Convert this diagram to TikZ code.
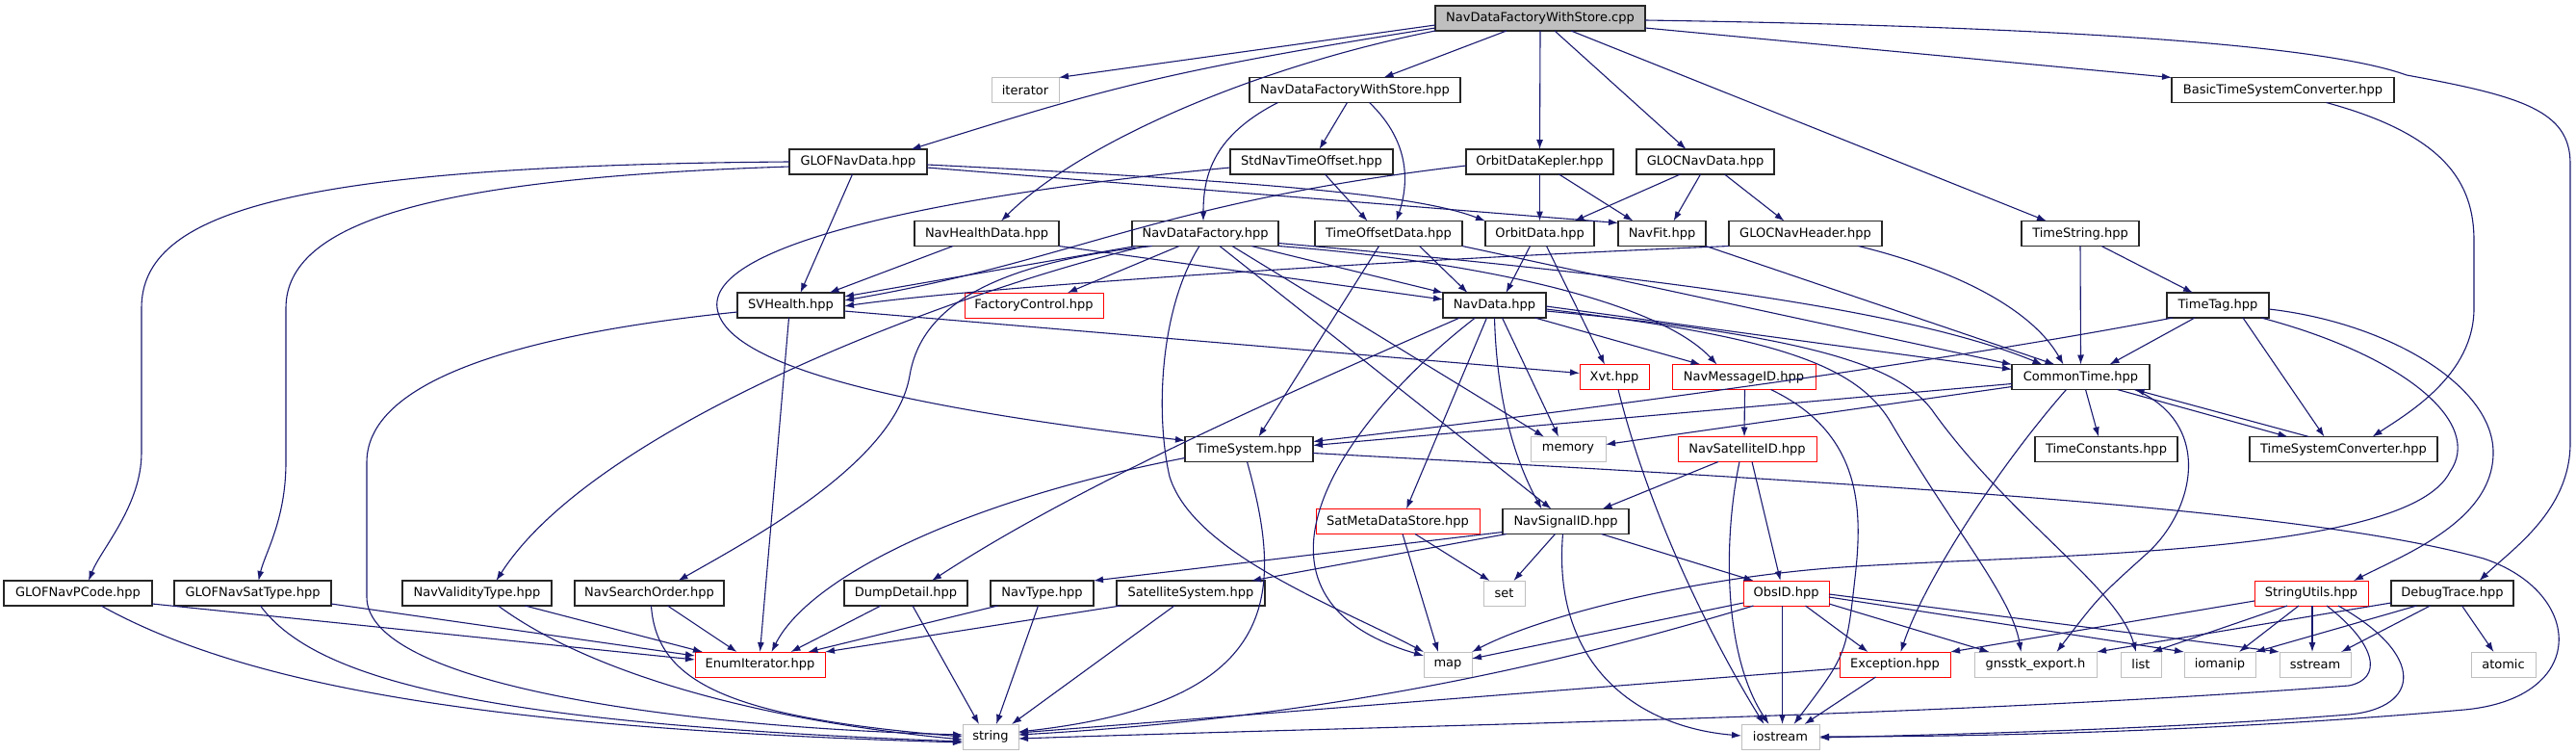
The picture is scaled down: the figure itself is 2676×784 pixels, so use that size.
\documentclass[tikz,border=0pt]{standalone}
\usepackage{fontspec}
\setmainfont{DejaVu Sans}
\usetikzlibrary{positioning,arrows.meta}

\definecolor{edgeblue}{HTML}{191970}
\definecolor{boxgrey}{HTML}{BFBFBF}

\tikzset{
	box/.style={draw, fill=white, minimum height=26pt, inner xsep=2pt, inner ysep=0pt,
		outer sep=0pt, line width=1pt, font=\fontsize{13pt}{15pt}\selectfont},
	header/.style={box, draw=black!85, line width=1.2pt},
	trunc/.style={box, draw=red},
	sysinc/.style={box, draw=boxgrey},
	rootsrc/.style={box, draw=black!85, line width=1.2pt, fill=boxgrey},
	dep/.style={draw=edgeblue, line width=1.1pt, -{Latex[length=10pt,width=7pt]}},
}

\begin{document}
\begin{tikzpicture}[x=1pt, y=-1pt]
\fill[white] (0,0) rectangle (2676,784);
\useasboundingbox (0,0) rectangle (2676,784);

% Source file
\node [rootsrc, minimum width=218pt, anchor=west] (cpp) at (1491,19) {NavDataFactoryWithStore.cpp};

% Row 1
\node [sysinc, minimum width=70pt, anchor=west] (std_iterator) at (1030,93.5) {iterator};
\node [header, minimum width=219pt, right=198pt of std_iterator] (nav_data_factory_with_store) {NavDataFactoryWithStore.hpp};
\node [header, minimum width=231pt, right=739pt of nav_data_factory_with_store] (basic_time_system_converter) {BasicTimeSystemConverter.hpp};

% Row 2
\node [header, minimum width=143pt, anchor=west] (glof_nav_data) at (820,168) {GLOFNavData.hpp};
\node [header, minimum width=169pt, right=315pt of glof_nav_data] (std_nav_time_offset) {StdNavTimeOffset.hpp};
\node [header, minimum width=153pt, right=76pt of std_nav_time_offset] (orbit_data_kepler) {OrbitDataKepler.hpp};
\node [header, minimum width=143pt, right=24pt of orbit_data_kepler] (gloc_nav_data) {GLOCNavData.hpp};

% Row 3
\node [header, minimum width=150pt, anchor=west] (nav_health_data) at (950,242.5) {NavHealthData.hpp};
\node [header, minimum width=152pt, right=76pt of nav_health_data] (nav_data_factory) {NavDataFactory.hpp};
\node [header, minimum width=153pt, right=38pt of nav_data_factory] (time_offset_data) {TimeOffsetData.hpp};
\node [header, minimum width=113pt, right=24pt of time_offset_data] (orbit_data) {OrbitData.hpp};
\node [header, minimum width=91pt, right=25pt of orbit_data] (nav_fit) {NavFit.hpp};
\node [header, minimum width=159pt, right=24pt of nav_fit] (gloc_nav_header) {GLOCNavHeader.hpp};
\node [header, minimum width=122pt, right=145pt of gloc_nav_header] (time_string) {TimeString.hpp};

% Row 4
\node [header, minimum width=111pt, anchor=west] (sv_health) at (766,317) {SVHealth.hpp};
\node [trunc, minimum width=144pt, right=125pt of sv_health] (factory_control) {FactoryControl.hpp};
\node [header, minimum width=107pt, right=353pt of factory_control] (nav_data) {NavData.hpp};
\node [header, minimum width=106pt, right=645pt of nav_data] (time_tag) {TimeTag.hpp};

% Row 5
\node [trunc, minimum width=72pt, anchor=west] (xvt) at (1641,391.5) {Xvt.hpp};
\node [trunc, minimum width=149pt, right=24pt of xvt] (nav_message_id) {NavMessageID.hpp};
\node [header, minimum width=143pt, right=204pt of nav_message_id] (common_time) {CommonTime.hpp};

% Row 6
\node [header, minimum width=133pt, anchor=west] (time_system) at (1231,466.5) {TimeSystem.hpp};
\node [sysinc, minimum width=78pt, right=226pt of time_system] (std_memory) {memory};
\node [trunc, minimum width=144pt, right=75pt of std_memory] (nav_satellite_id) {NavSatelliteID.hpp};
\node [header, minimum width=148pt, right=227pt of nav_satellite_id] (time_constants) {TimeConstants.hpp};
\node [header, minimum width=195pt, right=75pt of time_constants] (time_system_converter) {TimeSystemConverter.hpp};

% Row 7
\node [trunc, minimum width=170pt, anchor=west] (sat_meta_data_store) at (1367,541.5) {SatMetaDataStore.hpp};
\node [header, minimum width=131pt, right=24pt of sat_meta_data_store] (nav_signal_id) {NavSignalID.hpp};

% Row 8
\node [header, minimum width=154pt, anchor=west] (glof_nav_p_code) at (4,616) {GLOFNavPCode.hpp};
\node [header, minimum width=163pt, right=23pt of glof_nav_p_code] (glof_nav_sat_type) {GLOFNavSatType.hpp};
\node [header, minimum width=155pt, right=74pt of glof_nav_sat_type] (nav_validity_type) {NavValidityType.hpp};
\node [header, minimum width=155pt, right=24pt of nav_validity_type] (nav_search_order) {NavSearchOrder.hpp};
\node [header, minimum width=128pt, right=125pt of nav_search_order] (dump_detail) {DumpDetail.hpp};
\node [header, minimum width=107pt, right=24pt of dump_detail] (nav_type) {NavType.hpp};
\node [header, minimum width=154pt, right=24pt of nav_type] (satellite_system) {SatelliteSystem.hpp};
\node [sysinc, minimum width=43pt, right=227pt of satellite_system] (std_set) {set};
\node [trunc, minimum width=89pt, right=227pt of std_set] (obs_id) {ObsID.hpp};
\node [trunc, minimum width=118pt, right=442pt of obs_id] (string_utils) {StringUtils.hpp};
\node [header, minimum width=127pt, right=24pt of string_utils] (debug_trace) {DebugTrace.hpp};

% Row 9
\node [trunc, minimum width=135pt, anchor=west] (enum_iterator) at (722,690) {EnumIterator.hpp};
\node [sysinc, minimum width=50pt, right=622pt of enum_iterator] (std_map) {map};
\node [trunc, minimum width=115pt, right=382pt of std_map] (exception) {Exception.hpp};
\node [sysinc, minimum width=127pt, right=25pt of exception] (gnsstk_export) {gnsstk\_export.h};
\node [sysinc, minimum width=42pt, right=25pt of gnsstk_export] (std_list) {list};
\node [sysinc, minimum width=74pt, right=24pt of std_list] (std_iomanip) {iomanip};
\node [sysinc, minimum width=74pt, right=25pt of std_iomanip] (std_sstream) {sstream};
\node [sysinc, minimum width=67pt, right=125pt of std_sstream] (std_atomic) {atomic};

% Row 10
\node [sysinc, minimum width=58pt, anchor=west] (std_string) at (1000,765) {string};
\node [sysinc, minimum width=81pt, right=751pt of std_string] (std_iostream) {iostream};

% Includes of the source file
\draw[dep] ([yshift=-7pt]cpp.west) -- (std_iterator.north east);
\draw[dep] ([yshift=-10pt]cpp.west) .. controls (1200,75) and (1140,95) .. ([xshift=55pt]glof_nav_data.north);
\draw[dep] (cpp.south west) .. controls (1300,70) and (1120,150) .. ([xshift=15pt]nav_health_data.north);
\draw[dep] ([xshift=-35pt]cpp.south) -- ([xshift=30pt]nav_data_factory_with_store.north);
\draw[dep] (cpp.south) -- (orbit_data_kepler.north);
\draw[dep] ([xshift=15pt]cpp.south) -- ([xshift=-20pt]gloc_nav_data.north);
\draw[dep] ([xshift=32pt]cpp.south) -- ([xshift=-35pt]time_string.north);
\draw[dep] ([yshift=-10pt]cpp.east) -- (basic_time_system_converter.north west);
\draw[dep] ([yshift=-2pt]cpp.east) .. controls (2300,30) and (2450,60) .. (2500,78) .. controls (2620,100) and (2670,115) .. (2670,170) -- (2670,460) .. controls (2670,530) and (2610,570) .. ([xshift=28pt]debug_trace.north);

% NavDataFactoryWithStore.hpp
\draw[dep] ([xshift=-80pt]nav_data_factory_with_store.south) .. controls (1262,140) and (1250,180) .. ([xshift=-2pt]nav_data_factory.north);
\draw[dep] ([xshift=-8pt]nav_data_factory_with_store.south) -- ([xshift=8pt]std_nav_time_offset.north);
\draw[dep] ([xshift=15pt]nav_data_factory_with_store.south) .. controls (1468,150) and (1462,195) .. ([xshift=8pt]time_offset_data.north);

% GLOFNavData.hpp
\draw[dep] (glof_nav_data.west) .. controls (300,172) and (147,220) .. (147,320) -- (147,470) .. controls (147,525) and (105,570) .. ([xshift=11pt]glof_nav_p_code.north);
\draw[dep] ([yshift=-5pt]glof_nav_data.west) .. controls (450,185) and (297,230) .. (297,320) -- (297,480) .. controls (297,540) and (275,575) .. ([xshift=6pt]glof_nav_sat_type.north);
\draw[dep] ([xshift=-6pt]glof_nav_data.south) -- ([xshift=10pt]sv_health.north);
\draw[dep] ([yshift=-3pt]glof_nav_data.east) .. controls (1350,190) and (1480,205) .. (orbit_data.north west);
\draw[dep] ([yshift=-6pt]glof_nav_data.east) -- ([yshift=-2pt]nav_fit.north west);

% StdNavTimeOffset.hpp
\draw[dep] ([xshift=14pt]std_nav_time_offset.south) -- ([xshift=-22pt]time_offset_data.north);
\draw[dep] ([yshift=-6pt]std_nav_time_offset.west) .. controls (1000,200) and (735,250) .. (745,320) .. controls (755,390) and (1000,430) .. ([yshift=9pt]time_system.west);

% OrbitDataKepler.hpp and GLOCNavData.hpp
\draw[dep] (orbit_data_kepler.south) -- (orbit_data.north);
\draw[dep] ([xshift=20pt]orbit_data_kepler.south) -- ([xshift=-30pt]nav_fit.north);
\draw[dep] ([yshift=-4pt]orbit_data_kepler.west) .. controls (1200,210) and (1120,270) .. ([yshift=5pt]sv_health.east);
\draw[dep] ([xshift=-26pt]gloc_nav_data.south) -- ([xshift=36pt]orbit_data.north);
\draw[dep] ([xshift=-5pt]gloc_nav_data.south) -- ([xshift=12pt]nav_fit.north);
\draw[dep] ([xshift=20pt]gloc_nav_data.south) -- ([xshift=-22pt]gloc_nav_header.north);

% NavHealthData.hpp
\draw[dep] ([xshift=-35pt]nav_health_data.south) -- ([xshift=40pt]sv_health.north);
\draw[dep] (nav_health_data.south east) -- ([yshift=6pt]nav_data.west);

% NavDataFactory.hpp
\draw[dep] ([xshift=-72pt]nav_data_factory.south) -- ([yshift=9pt]sv_health.east);
\draw[dep] ([xshift=-27pt]nav_data_factory.south) -- ([xshift=35pt]factory_control.north);
\draw[dep] ([xshift=-62pt]nav_data_factory.south) .. controls (1000,300) and (620,440) .. ([xshift=20pt]nav_validity_type.north);
\draw[dep] ([xshift=-55pt]nav_data_factory.south) .. controls (1010,275) and (955,330) .. (945,390) .. controls (930,480) and (780,560) .. ([xshift=30pt]nav_search_order.north);
\draw[dep] ([xshift=-6pt]nav_data_factory.south) .. controls (1205,320) and (1200,430) .. (1215,495) .. controls (1240,575) and (1390,630) .. (std_map.north west);
\draw[dep] ([xshift=48pt]nav_data_factory.south) -- (nav_data.north west);
\draw[dep] ([xshift=15pt]nav_data_factory.south) -- ([xshift=-15pt]nav_signal_id.north);
\draw[dep] ([xshift=28pt]nav_data_factory.south) -- ([xshift=-25pt]std_memory.north);
\draw[dep] (nav_data_factory.south east) .. controls (1520,270) and (1720,310) .. ([xshift=-28pt]nav_message_id.north);
\draw[dep] ([yshift=-10pt]nav_data_factory.east) .. controls (1700,285) and (1980,320) .. ([xshift=-40pt]common_time.north);

% TimeOffsetData.hpp, OrbitData.hpp, NavFit.hpp, GLOCNavHeader.hpp
\draw[dep] ([xshift=32pt]time_offset_data.south) -- ([xshift=-28pt]nav_data.north);
\draw[dep] ([xshift=-10pt]time_offset_data.south) -- ([xshift=10pt]time_system.north);
\draw[dep] (time_offset_data.south east) -- (common_time.north west);
\draw[dep] ([xshift=-10pt]orbit_data.south) -- ([xshift=12pt]nav_data.north);
\draw[dep] ([xshift=7pt]orbit_data.south) -- ([xshift=-10pt]xvt.north);
\draw[dep] (nav_fit.south east) -- ([xshift=-27pt]common_time.north);
\draw[dep] (gloc_nav_header.south west) .. controls (1400,272) and (1000,300) .. ([yshift=-1pt]sv_health.east);
\draw[dep] ([xshift=55pt]gloc_nav_header.south) .. controls (2030,280) and (2110,320) .. ([xshift=-18pt]common_time.north);

% TimeString.hpp
\draw[dep] (time_string.south) -- (common_time.north);
\draw[dep] ([xshift=22pt]time_string.south) -- ([xshift=-26pt]time_tag.north);

% SVHealth.hpp
\draw[dep] ([xshift=-2pt]sv_health.south) -- (enum_iterator.north);
\draw[dep] ([yshift=-7pt]sv_health.west) .. controls (560,345) and (381,390) .. (381,480) -- (381,620) .. controls (381,710) and (700,755) .. ([yshift=2pt]std_string.west);
\draw[dep] ([yshift=-6pt]sv_health.east) -- ([yshift=4pt]xvt.west);

% NavData.hpp
\draw[dep] ([xshift=-36pt]nav_data.south) .. controls (1310,420) and (1110,510) .. ([xshift=27pt]dump_detail.north);
\draw[dep] ([xshift=-20pt]nav_data.south) .. controls (1390,440) and (1270,620) .. ([yshift=-4pt]std_map.north west);
\draw[dep] ([xshift=-8pt]nav_data.south) -- ([xshift=9pt]sat_meta_data_store.north);
\draw[dep] (nav_data.south) .. controls (1555,420) and (1575,480) .. ([xshift=-25pt]nav_signal_id.north);
\draw[dep] ([xshift=8pt]nav_data.south) -- ([xshift=-10pt]std_memory.north);
\draw[dep] ([xshift=42pt]nav_data.south) -- ([xshift=-45pt]nav_message_id.north);
\draw[dep] ([yshift=-1pt]nav_data.east) -- ([yshift=-5pt]common_time.north west);
\draw[dep] ([yshift=-4pt]nav_data.east) .. controls (1850,350) and (1930,380) .. (1965,440) .. controls (2030,550) and (2090,620) .. ([xshift=-15pt]gnsstk_export.north);
\draw[dep] ([yshift=-6pt]nav_data.east) .. controls (1900,350) and (1980,385) .. (2010,430) .. controls (2090,540) and (2200,610) .. ([xshift=-5pt]std_list.north);

% TimeTag.hpp
\draw[dep] ([xshift=-24pt]time_tag.south) -- ([xshift=30pt]common_time.north);
\draw[dep] ([xshift=-47pt]time_tag.south) .. controls (2050,370) and (1700,420) .. ([yshift=8pt]time_system.east);
\draw[dep] ([xshift=26pt]time_tag.south) -- ([xshift=-20pt]time_system_converter.north);
\draw[dep] ([yshift=-4pt]time_tag.east) .. controls (2480,335) and (2590,400) .. (2590,470) .. controls (2590,540) and (2500,575) .. ([xshift=44pt]string_utils.north);
\draw[dep] ([xshift=-8pt]time_tag.south east) .. controls (2500,370) and (2580,440) .. (2545,490) .. controls (2500,580) and (2100,575) .. (1900,590) .. controls (1750,602) and (1600,640) .. (std_map.north east);

% CommonTime.hpp and TimeSystemConverter.hpp
\draw[dep] ([xshift=5pt]common_time.south) -- ([xshift=-8pt]time_constants.north);
\draw[dep] ([yshift=-7pt]common_time.west) -- ([yshift=4pt]time_system.east);
\draw[dep] ([yshift=-10pt]common_time.west) -- ([yshift=5pt]std_memory.east);
\draw[dep] ([xshift=38pt]common_time.south) -- ([xshift=-58pt]time_system_converter.north);
\draw[dep] ([xshift=-36pt]time_system_converter.north) -- ([xshift=56pt]common_time.south);
\draw[dep] ([xshift=-15pt]common_time.south) .. controls (2080,480) and (2000,600) .. ([xshift=6pt]exception.north);
\draw[dep] ([xshift=56pt]common_time.south) .. controls (2300,440) and (2280,530) .. (2230,575) .. controls (2180,620) .. ([xshift=22pt]gnsstk_export.north);
\draw[dep] ([xshift=45pt]basic_time_system_converter.south) .. controls (2540,140) and (2570,190) .. (2570,250) -- (2570,320) .. controls (2570,390) and (2500,430) .. ([xshift=30pt]time_system_converter.north);

% TimeSystem.hpp
\draw[dep] ([yshift=-9pt]time_system.west) .. controls (1000,520) and (840,600) .. ([xshift=12pt]enum_iterator.north);
\draw[dep] ([xshift=-2pt]time_system.south) .. controls (1335,620) and (1330,730) .. ([yshift=5pt]std_string.east);
\draw[dep] ([yshift=-4pt]time_system.east) .. controls (2000,505) and (2400,530) .. (2580,580) .. controls (2685,615) and (2690,725) .. (2560,737) .. controls (2300,760) and (2050,765) .. (std_iostream.east);

% Xvt.hpp, NavMessageID.hpp, NavSatelliteID.hpp
\draw[dep] ([xshift=4pt]xvt.south) .. controls (1720,560) and (1800,700) .. ([xshift=-17pt]std_iostream.north);
\draw[dep] ([xshift=1pt]nav_message_id.south) -- ([xshift=-3pt]nav_satellite_id.north);
\draw[dep] ([xshift=28pt]nav_message_id.south) .. controls (1935,450) and (1935,530) .. (1927,600) .. controls (1918,680) .. ([xshift=14pt]std_iostream.north);
\draw[dep] ([xshift=-30pt]nav_satellite_id.south) -- ([xshift=38pt]nav_signal_id.north);
\draw[dep] ([xshift=5pt]nav_satellite_id.south) -- ([xshift=-6pt]obs_id.north);
\draw[dep] ([xshift=-8pt]nav_satellite_id.south) .. controls (1790,560) and (1790,680) .. ([xshift=-12pt]std_iostream.north);

% SatMetaDataStore.hpp and NavSignalID.hpp
\draw[dep] ([xshift=5pt]sat_meta_data_store.south) -- ([xshift=-10pt]std_map.north);
\draw[dep] ([xshift=18pt]sat_meta_data_store.south) -- ([xshift=-15pt]std_set.north);
\draw[dep] ([xshift=-11pt]nav_signal_id.south) -- ([xshift=10pt]std_set.north);
\draw[dep] ([xshift=37pt]nav_signal_id.south) -- ([xshift=-34pt]obs_id.north);
\draw[dep] ([yshift=2pt]nav_signal_id.south west) -- (nav_type.north east);
\draw[dep] ([xshift=4pt]nav_signal_id.south west) -- ([xshift=-14pt]satellite_system.north east);
\draw[dep] ([xshift=-3pt]nav_signal_id.south) .. controls (1612,690) and (1700,755) .. ([yshift=1pt]std_iostream.west);

% ObsID.hpp and Exception.hpp
\draw[dep] ([yshift=-10pt]obs_id.west) -- ([yshift=6pt]std_map.east);
\draw[dep] ([xshift=-34pt]obs_id.south) .. controls (1620,690) and (1380,745) .. ([yshift=2pt]std_string.east);
\draw[dep] ([xshift=-4pt]obs_id.south) -- ([xshift=2pt]std_iostream.north);
\draw[dep] ([xshift=20pt]obs_id.south) -- ([xshift=-28pt]exception.north);
\draw[dep] ([yshift=-11pt]obs_id.east) -- ([xshift=-48pt]gnsstk_export.north);
\draw[dep] ([yshift=-4pt]obs_id.east) -- (std_iomanip.north west);
\draw[dep] ([yshift=-1pt]obs_id.east) -- (std_sstream.north west);
\draw[dep] ([xshift=-20pt]exception.south) -- ([xshift=25pt]std_iostream.north);
\draw[dep] ([yshift=-4pt]exception.west) -- ([yshift=4pt]std_string.east);

% StringUtils.hpp and DebugTrace.hpp
\draw[dep] ([yshift=-8pt]string_utils.west) -- (exception.north east);
\draw[dep] ([xshift=-25pt]string_utils.south) -- ([xshift=12pt]std_list.north);
\draw[dep] ([xshift=-13pt]string_utils.south) -- ([xshift=20pt]std_iomanip.north);
\draw[dep] ([xshift=1pt]string_utils.south) -- ([xshift=-3pt]std_sstream.north);
\draw[dep] ([xshift=16pt]string_utils.south) .. controls (2470,670) and (2475,705) .. (2440,712) .. controls (2000,745) and (1500,752) .. ([yshift=-2pt]std_string.east);
\draw[dep] ([xshift=28pt]string_utils.south) .. controls (2520,680) and (2515,735) .. (2440,742) .. controls (2250,757) and (2050,762) .. ([yshift=-1pt]std_iostream.east);
\draw[dep] ([yshift=3pt]debug_trace.south west) -- (gnsstk_export.north east);
\draw[dep] ([xshift=-37pt]debug_trace.south) -- (std_iomanip.north east);
\draw[dep] ([xshift=-23pt]debug_trace.south) -- ([xshift=27pt]std_sstream.north);
\draw[dep] ([xshift=10pt]debug_trace.south) -- ([xshift=-10pt]std_atomic.north);

% Row 8 headers
\draw[dep] ([xshift=-26pt]dump_detail.south) -- ([xshift=32pt]enum_iterator.north);
\draw[dep] ([xshift=7pt]dump_detail.south) -- ([xshift=-12pt]std_string.north);
\draw[dep] ([xshift=-46pt]nav_type.south) -- ([xshift=50pt]enum_iterator.north);
\draw[dep] ([xshift=-4pt]nav_type.south) -- ([xshift=6pt]std_string.north);
\draw[dep] ([xshift=4pt]satellite_system.south west) -- (enum_iterator.north east);
\draw[dep] ([xshift=-17pt]satellite_system.south) -- ([xshift=22pt]std_string.north);
\draw[dep] ([xshift=19pt]nav_search_order.south) -- ([xshift=-24pt]enum_iterator.north);
\draw[dep] ([xshift=2pt]nav_search_order.south) .. controls (682,710) and (760,745) .. (std_string.west);
\draw[dep] ([xshift=50pt]nav_validity_type.south) -- ([xshift=8pt]enum_iterator.north west);
\draw[dep] ([xshift=22pt]nav_validity_type.south) .. controls (600,690) and (760,745) .. ([yshift=-3pt]std_string.west);
\draw[dep] ([yshift=-11pt]glof_nav_sat_type.east) -- ([yshift=9pt]enum_iterator.west);
\draw[dep] ([xshift=8pt]glof_nav_sat_type.south) .. controls (330,710) and (520,752) .. ([yshift=-5pt]std_string.west);
\draw[dep] ([yshift=-11pt]glof_nav_p_code.east) -- ([yshift=5pt]enum_iterator.west);
\draw[dep] ([xshift=24pt]glof_nav_p_code.south) .. controls (260,715) and (520,757) .. ([yshift=-6pt]std_string.west);

\end{tikzpicture}
\end{document}
